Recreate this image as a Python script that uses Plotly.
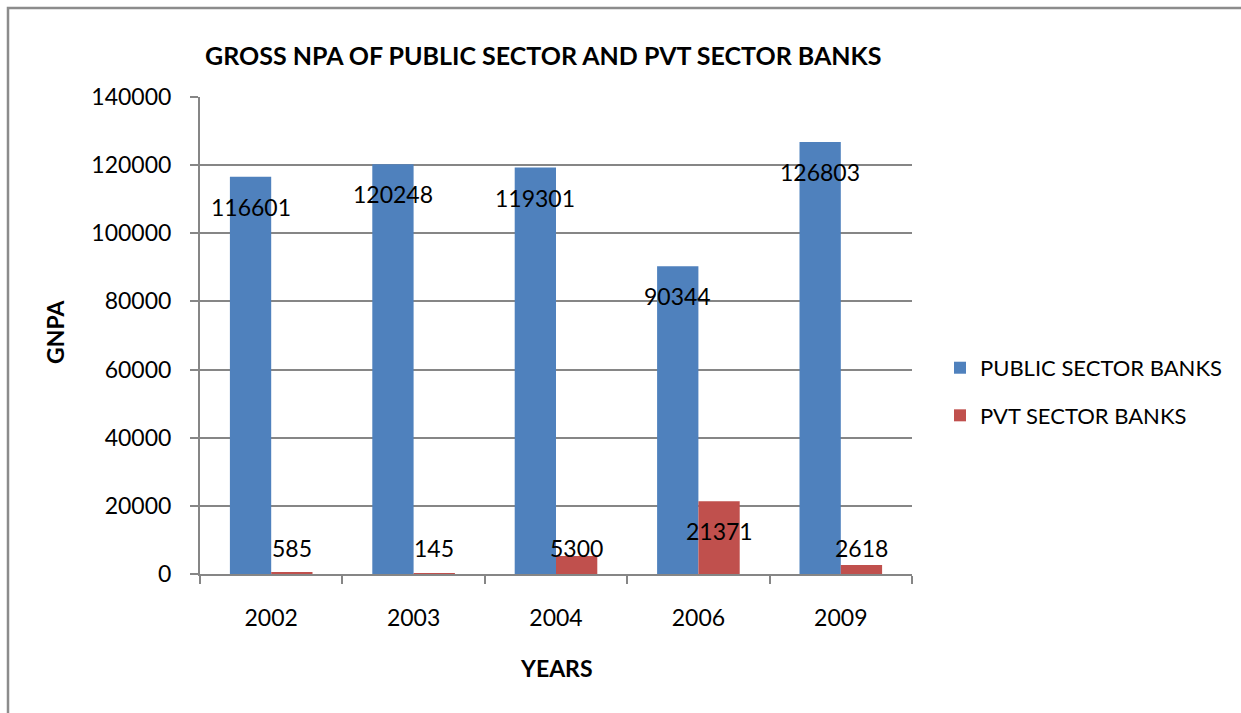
import plotly.graph_objects as go

years = ["2002", "2003", "2004", "2006", "2009"]
public_sector = [116601, 120248, 119301, 90344, 126803]
pvt_sector = [585, 145, 5300, 21371, 2618]
y_ticks = [0, 20000, 40000, 60000, 80000, 100000, 120000, 140000]
y_tick_labels = [str(v) for v in y_ticks]

BLUE = "#4F81BD"
RED = "#C0504D"
GRID = "#868686"
FONT = "Lato, Calibri, sans-serif"

W, H = 1241, 713
M_L, M_R, M_T, M_B = 200, 329, 97, 139
plot_h = H - M_T - M_B
pw = W - M_L - M_R
y_max = 140000
units_per_px = y_max / plot_h
BARGAP = 0.42

fig = go.Figure()
fig.add_trace(go.Bar(x=years, y=public_sector, name="PUBLIC SECTOR BANKS",
                     marker=dict(color=BLUE, line=dict(width=0)), legendgroup="a"))
fig.add_trace(go.Bar(x=years, y=pvt_sector, name="PVT SECTOR BANKS",
                     marker=dict(color=RED, line=dict(width=0)), legendgroup="b"))

# data labels placed just inside the top of each bar
annotations = []
for i, yr in enumerate(years):
    for vals, shift in [(public_sector, -0.5), (pvt_sector, 0.5)]:
        v = vals[i]
        ly = max(v - 30 * units_per_px, 26 * units_per_px)
        annotations.append(dict(
            x=i + shift * (1 - BARGAP) / 2, y=ly, xref="x", yref="y",
            text=str(v), showarrow=False, xanchor="center", yanchor="middle",
            font=dict(family=FONT, size=23, color="#000000"),
        ))

annotations += [
    dict(text="GROSS NPA OF PUBLIC SECTOR AND PVT SECTOR BANKS", x=(543 - M_L) / pw,
         y=(H - M_B - 55) / plot_h, xref="paper", yref="paper", showarrow=False,
         xanchor="center", yanchor="middle",
         font=dict(family=FONT, size=25, color="#000000", weight="bold")),
    dict(text="GNPA", x=(55 - M_L) / pw, y=(H - M_B - 332) / plot_h,
         xref="paper", yref="paper", showarrow=False, textangle=-90,
         xanchor="center", yanchor="middle",
         font=dict(family=FONT, size=23, color="#000000", weight="bold")),
    dict(text="YEARS", x=(556 - M_L) / pw, y=(H - M_B - 668) / plot_h,
         xref="paper", yref="paper", showarrow=False,
         xanchor="center", yanchor="middle",
         font=dict(family=FONT, size=23, color="#000000", weight="bold")),
]

# outer chart frame
shapes = [dict(type="rect", xref="paper", yref="paper",
               x0=(8 - M_L) / pw, x1=(1260 - M_L) / pw,
               y0=(H - M_B - 730) / plot_h, y1=(H - M_B - 8) / plot_h,
               line=dict(color="#8c8c8c", width=2.5), fillcolor="rgba(0,0,0,0)", layer="below")]

fig.update_layout(
    width=W, height=H,
    margin=dict(l=M_L, r=M_R, t=M_T, b=M_B, autoexpand=False),
    paper_bgcolor="white", plot_bgcolor="white",
    barmode="group", bargap=BARGAP, bargroupgap=0,
    font=dict(family=FONT, size=22, color="#000000"),
    showlegend=True,
    legend=dict(x=(940 - M_L) / pw, y=(H - M_B - 366) / plot_h + 0.04, xanchor="left", yanchor="top",
                font=dict(family=FONT, size=22, color="#000000"),
                traceorder="grouped", tracegroupgap=16, bgcolor="rgba(0,0,0,0)"),
    annotations=annotations,
    shapes=shapes,
)
fig.update_xaxes(type="category", tickson="boundaries", ticks="outside", ticklen=8,
                 tickcolor=GRID, tickwidth=2, showline=True, linecolor=GRID, linewidth=2,
                 showgrid=False, tickfont=dict(family=FONT, size=23), ticklabelstandoff=22)
fig.update_yaxes(range=[0, y_max], tickvals=y_ticks, ticktext=y_tick_labels,
                 ticks="outside", ticklen=8,
                 tickcolor=GRID, tickwidth=2, showline=True, linecolor=GRID, linewidth=2,
                 showgrid=True, gridcolor=GRID, gridwidth=1.5, zeroline=False,
                 tickfont=dict(family=FONT, size=23), ticklabelstandoff=14)

fig.write_html("out.html")
